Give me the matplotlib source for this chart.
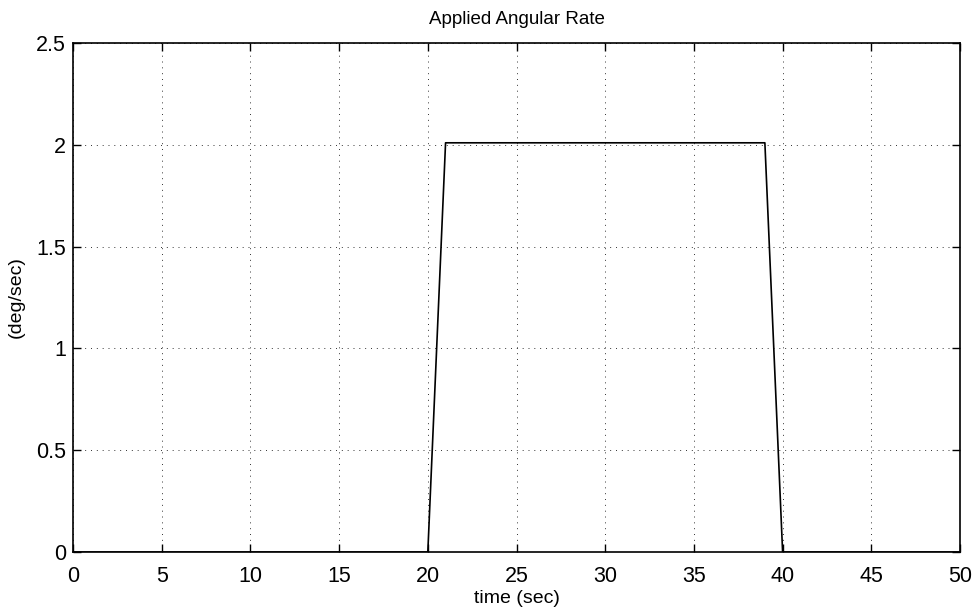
import matplotlib
matplotlib.use('Agg')
import matplotlib.pyplot as plt

# applied rate profile (deg/sec) vs time (sec)
time_s = [0, 20, 21, 39, 40, 50]
rate_dps = [0, 0, 2.01, 2.01, 0, 0]

x_ticks = [0, 5, 10, 15, 20, 25, 30, 35, 40, 45, 50]
y_ticks = [0, 0.5, 1, 1.5, 2, 2.5]
y_labels = ['0', '0.5', '1', '1.5', '2', '2.5']

plt.rcParams['font.family'] = ['Liberation Sans', 'DejaVu Sans']

fig = plt.figure(figsize=(9.79, 6.15), dpi=100)
ax = fig.add_axes([0.0746, 0.1024, 0.906, 0.8276])

ax.plot(time_s, rate_dps, color='black', linewidth=1.2)

ax.set_xlim(0, 50)
ax.set_ylim(0, 2.5)
ax.set_xticks(x_ticks)
ax.set_yticks(y_ticks)
ax.set_yticklabels(y_labels)
ax.tick_params(direction='in', length=6, labelsize=15.5, top=True, right=True,
               width=1)
ax.tick_params(axis='x', pad=10)
ax.tick_params(axis='y', pad=5)
ax.grid(True, linestyle=(0, (1, 5)), color='black', linewidth=0.7, alpha=0.8)
for s in ax.spines.values():
    s.set_linewidth(1.2)

ax.set_title('Applied Angular Rate', fontsize=13.5, pad=14)
ax.set_xlabel('time (sec)', fontsize=14, labelpad=2)
ax.set_ylabel('(deg/sec)', fontsize=14, labelpad=8)

fig.savefig('out.png', dpi=100)
